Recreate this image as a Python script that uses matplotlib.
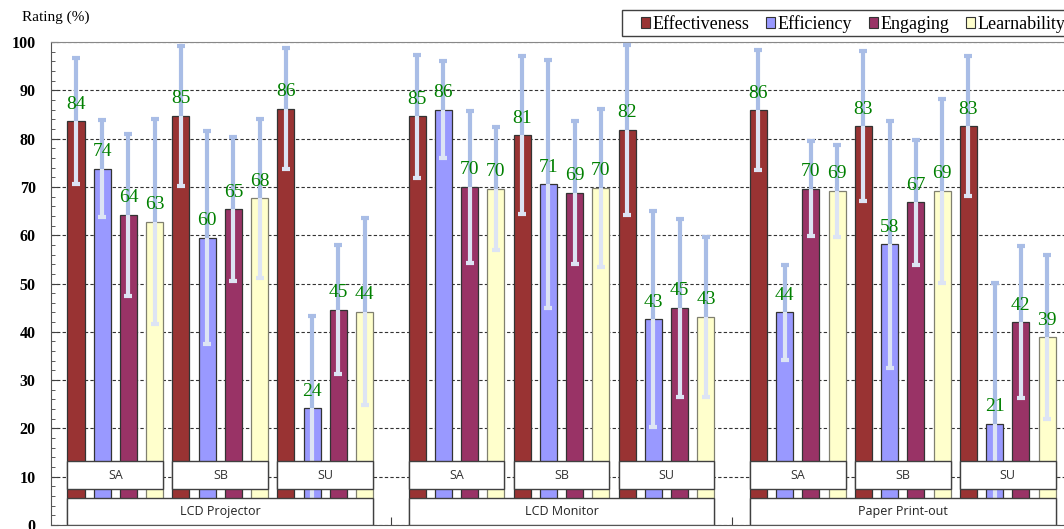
import numpy as np
import matplotlib
matplotlib.use('Agg')
from matplotlib import pyplot as plt
from matplotlib.patches import Rectangle

# categories
groups = ['LCD Projector', 'LCD Monitor', 'Paper Print-out']
subgroups = ['SA', 'SB', 'SU']
metrics = ['Effectiveness', 'Efficiency', 'Engaging', 'Learnability']

# mean rating (%) per group/subgroup: Projector SA,SB,SU, Monitor SA,SB,SU, Paper SA,SB,SU
effectiveness = [83.6, 84.7, 86.2, 84.6, 80.7, 81.8, 85.9, 82.6, 82.6]
efficiency = [73.8, 59.5, 24.2, 86.0, 70.6, 42.6, 44.0, 58.1, 21.0]
engaging = [64.2, 65.4, 44.6, 70.0, 68.8, 45.0, 69.6, 66.8, 42.0]
learnability = [62.8, 67.6, 44.2, 69.6, 69.8, 43.1, 69.2, 69.2, 38.9]

# standard deviations (error bars)
effectiveness_sd = [13.0, 14.5, 12.5, 12.7, 16.3, 17.6, 12.5, 15.6, 14.4]
efficiency_sd = [10.0, 22.0, 19.1, 10.0, 25.6, 22.4, 9.9, 25.5, 29.2]
engaging_sd = [16.8, 14.9, 13.4, 15.8, 14.8, 18.4, 9.8, 12.9, 15.8]
learnability_sd = [21.2, 16.5, 19.3, 12.7, 16.4, 16.5, 9.5, 19.0, 17.0]

yticks = [0, 10, 20, 30, 40, 50, 60, 70, 80, 90, 100]

series = [effectiveness, efficiency, engaging, learnability]
errors = [effectiveness_sd, efficiency_sd, engaging_sd, learnability_sd]
colors = ['#993333', '#9999ff', '#993366', '#ffffcc']
edges = ['#333333', '#333333', '#333333', '#808070']

bar_w = 0.65
serif = 'Liberation Serif'
W, H = 1064, 529

fig = plt.figure(figsize=(W/100, H/100), dpi=100)
# axes run off the right edge like the original screenshot
ax = fig.add_axes([51/W, 4/H, 1021/W, 483/H])

def position(g, s, m):
    return g*13 + s*4 + m

for m in range(4):
    xs = []
    for g in range(3):
        for s in range(3):
            xs.append(position(g, s, m))
    xs = np.array(xs)
    vals = np.array(series[m])
    err = np.array(errors[m])
    ax.bar(xs, vals, width=bar_w, color=colors[m], edgecolor=edges[m],
           linewidth=0.9, zorder=2, label=metrics[m])
    # upper half of error bar (blue) and lower half (pale, over the bar)
    ax.vlines(xs, vals, vals+err, color='#a9bde6', linewidth=3, zorder=3)
    ax.plot(xs, vals+err, '_', color='#a9bde6', ms=6, mew=3, zorder=3)
    ax.vlines(xs, vals-err, vals, color='#dde4f4', linewidth=3, zorder=3)
    ax.plot(xs, vals-err, '_', color='#dde4f4', ms=6, mew=3, zorder=3)
    for x, v in zip(xs, vals):
        ax.annotate('%d' % int(v + 0.5), (x, v), xytext=(0, 9), textcoords='offset points',
                    ha='center', va='baseline', color='#008000',
                    fontsize=14, family=serif, zorder=5)

# category boxes drawn inside the plot
for g in range(3):
    x0 = position(g, 0, 0) - bar_w/2
    x1 = position(g, 2, 3) + bar_w/2
    ax.add_patch(Rectangle((x0, 0), x1-x0, 5.6, facecolor='white',
                           edgecolor='#404040', linewidth=1, zorder=6))
    ax.text((x0+x1)/2, 2.7, groups[g], ha='center', va='center',
            fontsize=9, family='Open Sans', color='#222222', zorder=7)
    for s in range(3):
        sx0 = position(g, s, 0) - bar_w/2
        sx1 = position(g, s, 3) + bar_w/2
        ax.add_patch(Rectangle((sx0, 7.45), sx1-sx0, 5.8, facecolor='white',
                               edgecolor='#404040', linewidth=1, zorder=6))
        ax.text((sx0+sx1)/2, 10.3, subgroups[s], ha='center', va='center',
                fontsize=9, family='Open Sans', color='#333333', zorder=7)

ax.set_xlim(-0.952, 37.95)
ax.set_ylim(0, 100)
ax.set_yticks(yticks)
ax.set_yticks(np.arange(0, 101, 2), minor=True)
ax.set_yticklabels([str(t) for t in yticks], family=serif, fontsize=11.5, fontweight='bold')
ax.tick_params(axis='y', which='major', direction='in', length=5, pad=11, color='#404040')
ax.tick_params(axis='y', which='minor', direction='in', length=3, color='#404040')
# group divider ticks on the bottom
ax.set_xticks([12, 25])
ax.set_xticklabels([])
ax.tick_params(axis='x', direction='in', length=6, color='#404040')

ax.yaxis.grid(True, which='major', linestyle=(0, (3, 2)), color='#333333', linewidth=0.8, zorder=0)
ax.set_axisbelow(True)
ax.spines['top'].set_color('#888888')
ax.spines['right'].set_color('#888888')
ax.spines['left'].set_color('#555555')
ax.spines['bottom'].set_color('#555555')

fig.text(22/W, 1-17/H, 'Rating (%)', family=serif, fontsize=11, va='center', ha='left')

# legend frame runs off the right edge
fig.patches.append(Rectangle((622/W, 1-36/H), 500/W, 26/H, transform=fig.transFigure,
                             facecolor='white', edgecolor='#404040', linewidth=1))
handles = [Rectangle((0, 0), 1, 1, facecolor=c, edgecolor='#333333', linewidth=0.8) for c in colors]
leg = fig.legend(handles, metrics, loc='center left', bbox_to_anchor=(641/W, 1-24/H),
                 ncol=4, frameon=False, borderpad=0, handlelength=0.5, handleheight=0.5,
                 handletextpad=0.12, columnspacing=0.95, borderaxespad=0,
                 prop=dict(family=serif, size=13))

fig.savefig('out.png', dpi=100)
